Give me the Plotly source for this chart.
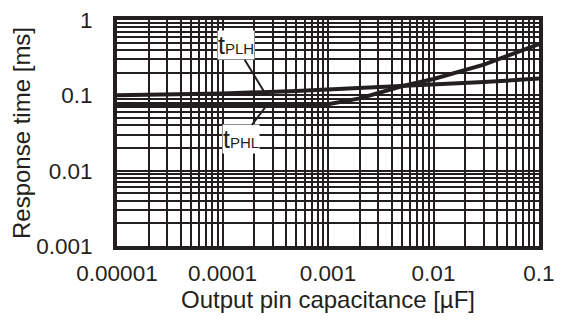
import plotly.graph_objects as go

# output pin capacitance [uF]
cap = [0.00001, 0.0001, 0.0005, 0.001, 0.002, 0.005, 0.01, 0.03, 0.1]
# response times [ms]
t_plh = [0.100, 0.106, 0.114, 0.119, 0.124, 0.132, 0.139, 0.150, 0.167]
t_phl = [0.072, 0.073, 0.074, 0.076, 0.091, 0.132, 0.165, 0.255, 0.480]

x_ticks = [0.00001, 0.0001, 0.001, 0.01, 0.1]
x_labels = ["0.00001", "0.0001", "0.001", "0.01", "0.1"]
y_ticks = [0.001, 0.01, 0.1, 1]
y_labels = ["0.001", "0.01", "0.1", "1"]

ink = "#231f20"

fig = go.Figure()
fig.add_trace(go.Scatter(x=cap, y=t_plh, mode="lines", name="tPLH",
                         line=dict(color=ink, width=4)))
fig.add_trace(go.Scatter(x=cap, y=t_phl, mode="lines", name="tPHL",
                         line=dict(color=ink, width=4)))

axis_common = dict(
    type="log",
    showgrid=True, gridcolor=ink, gridwidth=1.7,
    minor=dict(showgrid=True, gridcolor=ink, gridwidth=1.7, dtick="D1"),
    showline=True, linecolor=ink, linewidth=4, mirror=True,
    ticks="outside", tickcolor="rgba(0,0,0,0)", zeroline=False,
    ticklabeloverflow="allow",
    tickfont=dict(size=22.5, color=ink),
    title_font=dict(size=24, color=ink),
)

fig.update_xaxes(axis_common, range=[-5, -1], tickvals=x_ticks, ticktext=x_labels,
                 ticklen=4, title_text="Output pin capacitance [µF]", title_standoff=6)
fig.update_yaxes(axis_common, range=[-3, 0], tickvals=y_ticks, ticktext=y_labels,
                 ticklen=16, title_text="Response time [ms]", title_standoff=0)

sub = "<span style='font-size:15px'>{}</span>"
fig.add_annotation(x=-3.608, y=-0.946, xref="x", yref="y",
                   text="t" + sub.format("PLH"), font=dict(size=25, color=ink),
                   showarrow=True, arrowhead=0, arrowwidth=2, arrowcolor=ink,
                   ax=-28, ay=-46, bgcolor="white", borderpad=0)
fig.add_annotation(x=-3.589, y=-1.148, xref="x", yref="y",
                   text="t" + sub.format("PHL"), font=dict(size=25, color=ink),
                   showarrow=True, arrowhead=0, arrowwidth=2, arrowcolor=ink,
                   ax=-25, ay=33, bgcolor="white", borderpad=0)

fig.update_layout(
    width=563, height=324,
    margin=dict(l=117, r=15, t=8, b=78),
    paper_bgcolor="white", plot_bgcolor="white",
    font=dict(family="Liberation Sans, Arial, sans-serif", color=ink),
    showlegend=False,
)

# drop the default 8px page margin so the figure sits at the window corner
fig.write_html("out.html", config={"displayModeBar": False},
               post_script="document.body.style.margin='0';")
